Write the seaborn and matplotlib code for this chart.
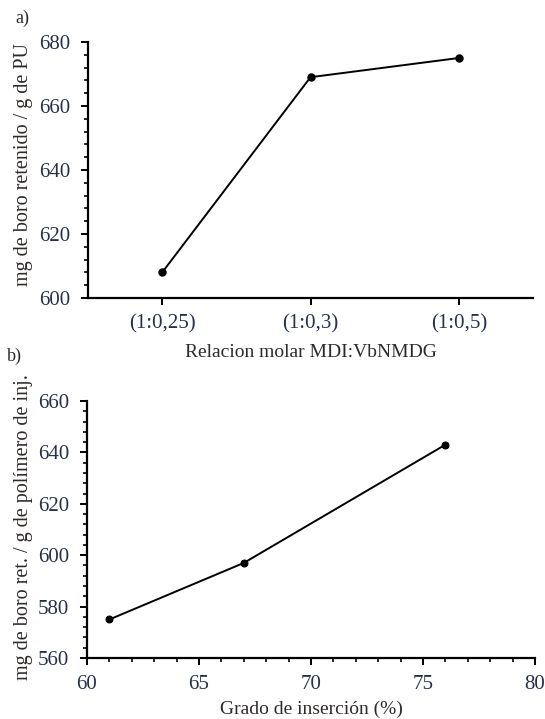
import numpy as np
import pandas as pd
import matplotlib.pyplot as plt
import seaborn as sns
from matplotlib.ticker import MultipleLocator

sns.set_style('ticks')
plt.rcParams['font.family'] = ['Liberation Serif', 'DejaVu Serif']

# panel a)
relacion = ['(1:0,25)', '(1:0,3)', '(1:0,5)']
boro_pu = [608, 669, 675]

# panel b)
grado = [61, 67, 76]
boro_inj = [575, 597, 643]

tick_color = '#27304a'
label_color = '#2e2a28'

fig = plt.figure(figsize=(5.45, 7.19), dpi=100)
ax1 = fig.add_axes([0.1615, 0.5855, 0.8165, 0.3561])
ax2 = fig.add_axes([0.1596, 0.0848, 0.8221, 0.3575])

dfa = pd.DataFrame({'rel': relacion, 'boro': boro_pu})
sns.pointplot(data=dfa, x='rel', y='boro', color='black', markers='o',
              markersize=5, linewidth=1.4, ax=ax1)
ax1.set_ylim(600, 680)
ax1.set_xlim(-0.5, 2.5)
ax1.yaxis.set_major_locator(MultipleLocator(20))
ax1.yaxis.set_minor_locator(MultipleLocator(4))
ax1.set_xlabel('Relacion molar MDI:VbNMDG', fontsize=14, color=label_color, labelpad=7)
ax1.set_ylabel('mg de boro retenido / g de PU', fontsize=14.5, color=label_color)
ax1.yaxis.set_label_coords(-0.123, 0.52)

dfb = pd.DataFrame({'grado': grado, 'boro': boro_inj})
sns.lineplot(data=dfb, x='grado', y='boro', color='black', marker='o',
             markersize=5, linewidth=1.4, markeredgecolor='black', ax=ax2)
ax2.set_xlim(60, 80)
ax2.set_ylim(560, 660)
ax2.xaxis.set_major_locator(MultipleLocator(5))
ax2.xaxis.set_minor_locator(MultipleLocator(1))
ax2.yaxis.set_major_locator(MultipleLocator(20))
ax2.yaxis.set_minor_locator(MultipleLocator(4))
ax2.set_xlabel('Grado de inserción (%)', fontsize=14, color=label_color, labelpad=5)
ax2.set_ylabel('mg de boro ret. / g de polímero de inj.', fontsize=14.5, color=label_color)
ax2.yaxis.set_label_coords(-0.12, 0.51)

for ax in (ax1, ax2):
    sns.despine(ax=ax)
    for s in ('left', 'bottom'):
        ax.spines[s].set_linewidth(1.6)
        ax.spines[s].set_color('black')
    ax.tick_params(which='major', direction='out', length=5, width=1.4,
                   labelsize=15, labelcolor=tick_color, color='black')
    ax.tick_params(axis='y', which='major', pad=8)
    ax.tick_params(axis='x', which='major', pad=7)
    ax.tick_params(which='minor', direction='out', length=3, width=1.2, color='black')
    ax.grid(False)

fig.text(0.028, 0.975, 'a)', fontsize=13, color=label_color, ha='left', va='center')
fig.text(0.012, 0.504, 'b)', fontsize=13, color=label_color, ha='left', va='center')

fig.savefig('out.png', dpi=100)
